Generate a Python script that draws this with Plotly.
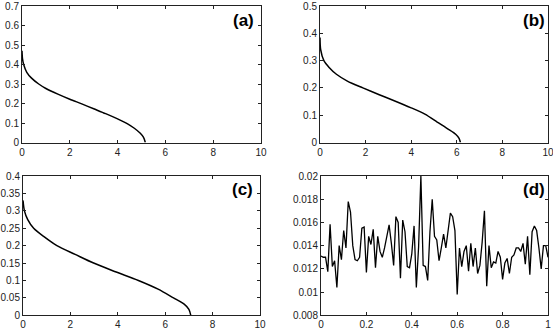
import plotly.graph_objects as go

# Panel (a)
a_x = [0, 0.02, 0.07, 0.2, 0.4, 0.7, 1.0, 1.5, 2.0, 2.5, 3.0, 3.5, 4.0, 4.4, 4.7, 4.95, 5.08, 5.16]
a_y = [0.47, 0.43, 0.40, 0.36, 0.33, 0.30, 0.277, 0.248, 0.222, 0.198, 0.173, 0.148, 0.121, 0.097, 0.073, 0.047, 0.027, 0.0]
# Panel (b)
b_x = [0, 0.03, 0.17, 0.4, 0.72, 1.2, 1.88, 2.6, 3.2, 4.0, 4.6, 5.14, 5.6, 5.95, 6.1, 6.16]
b_y = [0.385, 0.34, 0.30, 0.275, 0.25, 0.225, 0.20, 0.175, 0.155, 0.127, 0.104, 0.075, 0.05, 0.03, 0.015, 0.0]
# Panel (c)
c_x = [0, 0.06, 0.2, 0.45, 0.9, 1.43, 2.2, 2.98, 3.9, 4.87, 5.7, 6.35, 6.8, 7.0, 7.08]
c_y = [0.33, 0.30, 0.275, 0.25, 0.225, 0.20, 0.175, 0.15, 0.125, 0.10, 0.075, 0.05, 0.032, 0.017, 0.0]
# Panel (d)
d_y = [0.0131, 0.0130, 0.0130, 0.01175, 0.01585, 0.0122, 0.0127, 0.0104, 0.0140, 0.0128,
       0.0153, 0.0138, 0.0178, 0.0169, 0.0140, 0.0128, 0.0127, 0.0130, 0.0155, 0.0156,
       0.0117, 0.0148, 0.0141, 0.0154, 0.0121, 0.0148, 0.0135, 0.0130, 0.0138, 0.0149,
       0.0158, 0.0142, 0.0123, 0.0165, 0.0160, 0.0112, 0.0162, 0.0152, 0.0122, 0.0121,
       0.0133, 0.0157, 0.0104, 0.0139, 0.0200, 0.0123, 0.0122, 0.0110, 0.0152, 0.0180,
       0.0148, 0.0145, 0.0127, 0.0138, 0.0150, 0.0138, 0.0151, 0.0168, 0.0165, 0.0153,
       0.0098, 0.0138, 0.0122, 0.0135, 0.0140, 0.0118, 0.0142, 0.0122, 0.0138, 0.0116,
       0.0123, 0.0143, 0.0170, 0.0105, 0.0140, 0.0121, 0.0126, 0.0125, 0.0135, 0.0130,
       0.0111, 0.0125, 0.0129, 0.0116, 0.0130, 0.0132, 0.0138, 0.0138, 0.0135, 0.0142,
       0.0124, 0.0148, 0.0115, 0.0152, 0.0157, 0.0153, 0.0138, 0.0120, 0.0140, 0.0140,
       0.0130]
d_x = [i / 100 for i in range(len(d_y))]

xt_10 = [0, 2, 4, 6, 8, 10]
xt_1 = [0, 0.2, 0.4, 0.6, 0.8, 1]
xt_1_text = ["0", "0.2", "0.4", "0.6", "0.8", "1"]
yt_a = [0, 0.1, 0.2, 0.3, 0.4, 0.5, 0.6, 0.7]
yt_a_text = ["0", "0.1", "0.2", "0.3", "0.4", "0.5", "0.6", "0.7"]
yt_b = [0, 0.1, 0.2, 0.3, 0.4, 0.5]
yt_b_text = ["0", "0.1", "0.2", "0.3", "0.4", "0.5"]
yt_c = [0, 0.05, 0.1, 0.15, 0.2, 0.25, 0.3, 0.35, 0.4]
yt_c_text = ["0", "0.05", "0.1", "0.15", "0.2", "0.25", "0.3", "0.35", "0.4"]
yt_d = [0.008, 0.01, 0.012, 0.014, 0.016, 0.018, 0.02]
yt_d_text = ["0.008", "0.01", "0.012", "0.014", "0.016", "0.018", "0.02"]
panel_labels = ["(a)", "(b)", "(c)", "(d)"]

W, H = 553, 332
FONT = "Arial, Liberation Sans, sans-serif"

fig = go.Figure()
line = dict(color="black", width=1.5, shape="spline", smoothing=0.8)
fig.add_trace(go.Scatter(x=a_x, y=a_y, mode="lines", line=line, xaxis="x", yaxis="y"))
fig.add_trace(go.Scatter(x=b_x, y=b_y, mode="lines", line=line, xaxis="x2", yaxis="y2"))
fig.add_trace(go.Scatter(x=c_x, y=c_y, mode="lines", line=line, xaxis="x3", yaxis="y3"))
fig.add_trace(go.Scatter(x=d_x, y=d_y, mode="lines", line=dict(color="black", width=1.3), xaxis="x4", yaxis="y4"))

def ax(domain, rng, tv, tt, anchor):
    return dict(domain=domain, range=rng, tickvals=tv, ticktext=tt, anchor=anchor,
                automargin=False, ticklabeloverflow="allow",
                showline=True, linecolor="#222", linewidth=1, mirror="ticks",
                ticks="inside", ticklen=3, tickcolor="#222", showgrid=False, zeroline=False,
                tickfont=dict(family=FONT, size=10, color="#222"), fixedrange=True)

xa_dom = [22 / W, 261 / W]
xb_dom = [320 / W, 548 / W]
xc_dom = [23 / W, 260 / W]
xd_dom = [321 / W, 548 / W]
top_dom = [1 - 142.5 / H, 1 - 6 / H]
bot_dom = [1 - 315.3 / H, 1 - 176 / H]

fig.update_layout(
    width=W, height=H, margin=dict(l=0, r=0, t=0, b=0, autoexpand=False),
    paper_bgcolor="white", plot_bgcolor="white", showlegend=False,
    xaxis=ax(xa_dom, [0, 10], xt_10, [str(v) for v in xt_10], "y"),
    yaxis=ax(top_dom, [0, 0.7], yt_a, yt_a_text, "x"),
    xaxis2=ax(xb_dom, [0, 10], xt_10, [str(v) for v in xt_10], "y2"),
    yaxis2=ax(top_dom, [0, 0.5], yt_b, yt_b_text, "x2"),
    xaxis3=ax(xc_dom, [0, 10], xt_10, [str(v) for v in xt_10], "y3"),
    yaxis3=ax(bot_dom, [0, 0.4], yt_c, yt_c_text, "x3"),
    xaxis4=ax(xd_dom, [0, 1], xt_1, xt_1_text, "y4"),
    yaxis4=ax(bot_dom, [0.008, 0.02], yt_d, yt_d_text, "x4"),
)

label_pos = [("x", "y", 0.927, 0.895), ("x2", "y2", 0.94, 0.895), ("x3", "y3", 0.925, 0.9), ("x4", "y4", 0.94, 0.9)]
for text, (xr, yr, px, py) in zip(panel_labels, label_pos):
    fig.add_annotation(text="<b>%s</b>" % text, xref=xr + " domain", yref=yr + " domain",
                       x=px, y=py, xanchor="center", yanchor="middle", showarrow=False,
                       font=dict(family=FONT, size=17, color="black"))

fig.write_html("out.html", config={"displayModeBar": False},
               post_script="document.body.style.margin='0';document.body.style.overflow='hidden';")
